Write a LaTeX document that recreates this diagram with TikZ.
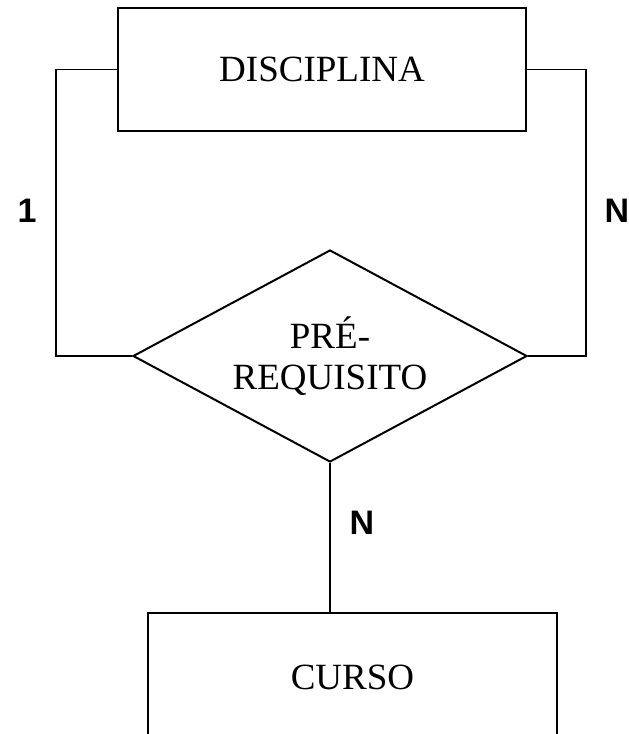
\documentclass[tikz,border=0pt]{standalone}
\usepackage{fontspec}
\setmainfont{Liberation Serif}
\newfontfamily\lblfont{Liberation Sans}
\usetikzlibrary{shapes.geometric}
\tikzset{
  entity/.style={draw, line width=2pt, inner sep=0pt, font=\fontsize{37}{41}\selectfont},
  relation/.style={draw, diamond, line width=2pt, inner sep=0pt, aspect=1.86, minimum width=394pt, minimum height=212pt, align=center, font=\fontsize{37}{41}\selectfont},
  conn/.style={line width=1.3pt},
  card/.style={font=\lblfont\bfseries\fontsize{34}{40}\selectfont, inner sep=0pt}
}
\begin{document}
\begin{tikzpicture}[x=1pt,y=-1pt]
\useasboundingbox (0,0) rectangle (629,734);
\clip (0,0) rectangle (629,734);
\node[entity, minimum width=408pt, minimum height=123pt] (dis) at (322,69.5) {DISCIPLINA};
\node[relation] (rel) at (330,356) {PRÉ-\\REQUISITO};
\node[entity, minimum width=409pt, minimum height=128pt] (cur) at (352.5,677) {CURSO};
\draw[conn] (dis.west) -- ++(-61,0) |- (rel.west);
\draw[conn] (dis.east) -- ++(59,0) |- (rel.east);
\draw[conn] (rel.south) -- (rel.south |- cur.north);
\node[card] (c1) at (27,211) {1};
\node[card] (c2) at (617,211) {N};
\node[card] (c3) at (362,523) {N};
\end{tikzpicture}
\end{document}
